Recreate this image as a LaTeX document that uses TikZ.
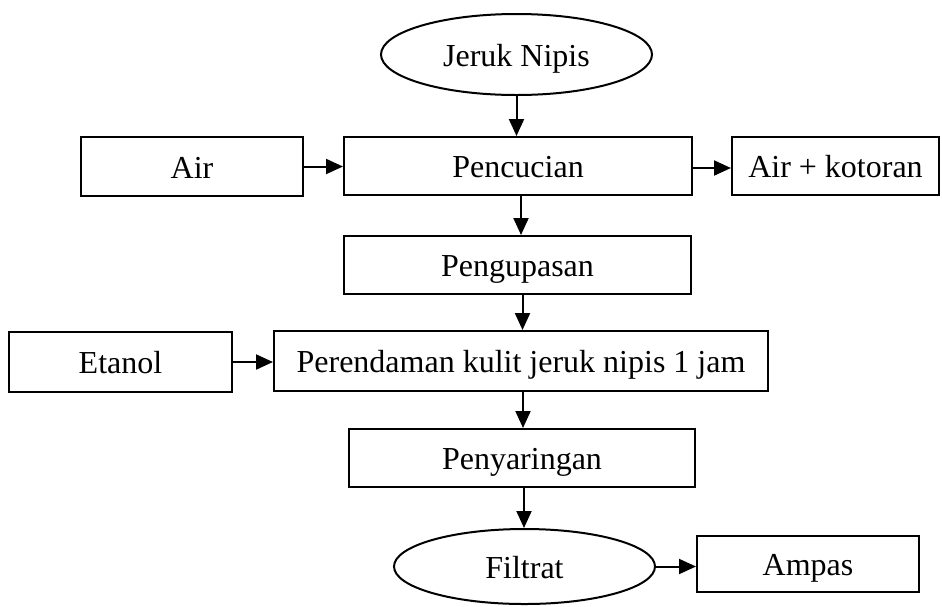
\documentclass[tikz,border=0pt]{standalone}
\usepackage{fontspec}
\setmainfont{Liberation Serif}
\usetikzlibrary{shapes.geometric,arrows.meta}
\begin{document}
\begin{tikzpicture}[x=1pt,y=-1pt,
  every node/.style={font=\fontsize{32}{38}\selectfont, inner sep=0pt, line width=2pt, text height=28pt, text depth=5pt},
  box/.style={draw, rectangle},
  oval/.style={draw, ellipse},
  arr/.style={line width=2pt, -{Triangle[length=17pt,width=15pt]}}]
\useasboundingbox (0,0) rectangle (942,606);
\node[oval, minimum width=271pt, minimum height=81pt] (jn) at (516.5,54.5) {Jeruk Nipis};
\node[box, minimum width=222pt, minimum height=59pt] (air) at (192,166.5) {Air};
\node[box, minimum width=348pt, minimum height=58pt] (pc) at (518,166) {Pencucian};
\node[box, minimum width=207pt, minimum height=58pt] (ak) at (835.5,166) {Air + kotoran};
\node[box, minimum width=347pt, minimum height=58pt] (pg) at (517.5,265) {Pengupasan};
\node[box, minimum width=223pt, minimum height=60pt] (et) at (120.5,362) {Etanol};
\node[box, minimum width=494pt, minimum height=60pt] (pr) at (521,361) {Perendaman kulit jeruk nipis 1 jam};
\node[box, minimum width=346pt, minimum height=58pt] (ps) at (522,458) {Penyaringan};
\node[oval, minimum width=261pt, minimum height=75pt] (fl) at (524.5,566.5) {Filtrat};
\node[box, minimum width=222pt, minimum height=56pt] (am) at (808,564) {Ampas};
\draw[arr] (jn.south) -- (jn.south |- pc.north);
\draw[arr] ([xshift=3pt]pc.south) -- ([xshift=3pt]pc.south |- pg.north);
\draw[arr] ([xshift=5pt]pg.south) -- ([xshift=5pt]pg.south |- pr.north);
\draw[arr] ([xshift=2pt]pr.south) -- ([xshift=2pt]pr.south |- ps.north);
\draw[arr] ([xshift=2pt]ps.south) -- ([xshift=2pt]ps.south |- fl.north);
\draw[arr] (air.east) -- (air.east -| pc.west);
\draw[arr] ([yshift=-2pt]pc.east) -- ([yshift=-2pt]pc.east -| ak.west);
\draw[arr] (et.east) -- (et.east -| pr.west);
\draw[arr] (fl.east) -- (fl.east -| am.west);
\end{tikzpicture}
\end{document}
